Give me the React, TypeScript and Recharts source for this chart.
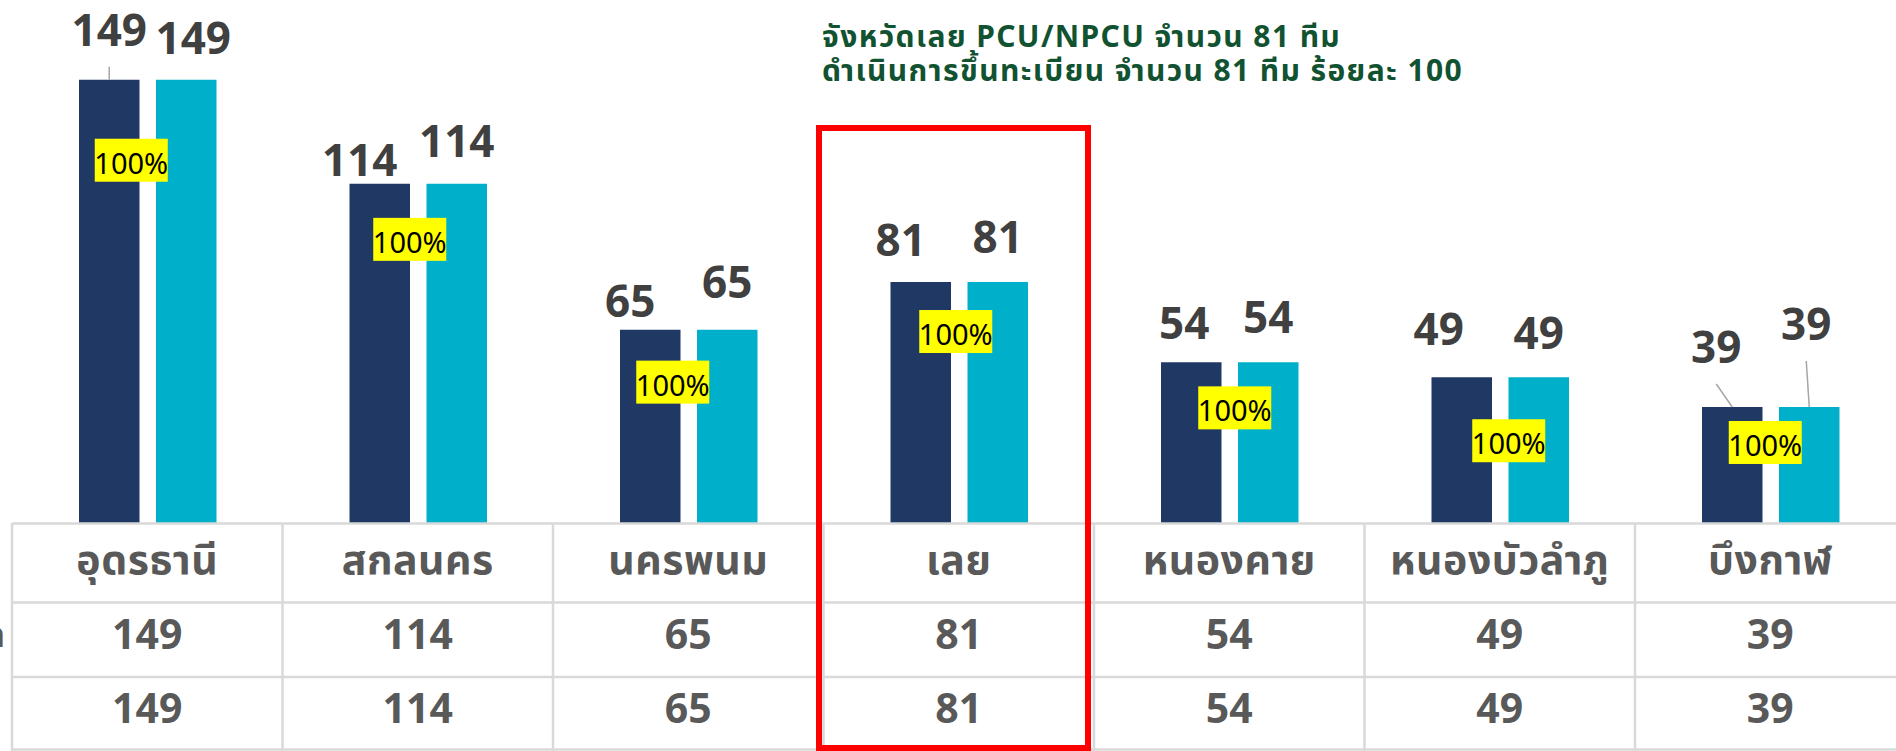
import { BarChart, Bar, XAxis, YAxis, LabelList } from 'recharts';

const provinces = ['อุดรธานี', 'สกลนคร', 'นครพนม', 'เลย', 'หนองคาย', 'หนองบัวลำภู', 'บึงกาฬ'];
const totalTeams = [149, 114, 65, 81, 54, 49, 39];
const registeredTeams = [149, 114, 65, 81, 54, 49, 39];
const rowLabels = ['PCU/NPCU ทั้งหมด', 'ขึ้นทะเบียน'];
const titleLines = ['จังหวัดเลย PCU/NPCU จำนวน 81 ทีม', 'ดำเนินการขึ้นทะเบียน จำนวน 81 ทีม ร้อยละ 100'];
const highlighted = 'เลย';

const chartData = provinces.map((name, i) => ({
  name,
  total: totalTeams[i],
  registered: registeredTeams[i],
  pct: Math.round((registeredTeams[i] / totalTeams[i]) * 100),
}));

// layout
const W = 1910;
const H = 751;
const M = { top: 47, right: 4.5, left: 12, bottom: 0 };
const AXIS_H = 228;
const BAND = (W - M.left - M.right) / provinces.length;
const BAR_SIZE = 60.5;
const BAR_GAP = 16.5;
const GRID = '#d9d9d9';
const FONT = "'Noto Sans', 'Noto Sans Thai', sans-serif";

// hand-dragged labels in the original: [dx, px above bar top, leader line]
const TOTAL_NUDGE: [number, number, boolean][] = [
  [0, 34, true], [-20, 8, false], [-20, 13, false], [-20, 26, false], [-7, 23, false], [-23, 32, false], [-16, 44, true],
];
const REG_NUDGE: [number, number, boolean][] = [
  [7, 26, false], [0, 27, false], [0, 32, false], [0, 29, false], [0, 29, false], [0, 28, false], [-3, 67, true],
];
// percentage boxes: [dx from group centre, px below bar top]
const PCT_NUDGE: [number, number][] = [
  [-16.5, 59], [-8.5, 34], [-16, 31], [-3.5, 28], [5, 24], [8.5, 42], [-5.5, 14],
];

function geom(props: any) {
  const vb = props.viewBox || {};
  return {
    x: props.x ?? vb.x,
    y: props.y ?? vb.y,
    width: props.width ?? vb.width,
  };
}

const valueLabel = (nudges: [number, number, boolean][]) => (props: any) => {
  const { x, y, width } = geom(props);
  const i = props.index;
  if (x == null || i == null) return null;
  const [dx, above, lead] = nudges[i];
  const cx = x + width / 2;
  const lx = cx + dx;
  const base = y - above;
  return (
    <g>
      {lead && <line x1={lx} y1={base + 21} x2={cx} y2={y} stroke="#a6a6a6" strokeWidth={1.5} />}
      <text x={lx} y={base} textAnchor="middle" fontSize={44} fontWeight={700} fill="#404040" fontFamily={FONT}>
        {props.value}
      </text>
    </g>
  );
};

const PctLabel = (props: any) => {
  const { x, y } = geom(props);
  const i = props.index;
  if (x == null || i == null) return null;
  const [dx, drop] = PCT_NUDGE[i];
  const bx = x - BAR_GAP / 2 + dx;
  const top = y + drop;
  return (
    <g>
      <rect x={bx - 36.5} y={top} width={73} height={43} fill="#ffff00" />
      <text x={bx} y={top + 35} textAnchor="middle" fontSize={29} fill="#000000" fontFamily={FONT}>
        {chartData[i].pct}%
      </text>
    </g>
  );
};

function TableTick(props: any) {
  const { x, payload } = props;
  const i = provinces.indexOf(payload.value);
  const left = x - BAND / 2;
  const row = chartData[i];
  const cellText = { textAnchor: 'middle' as const, fontWeight: 700, fill: '#595959', fontFamily: FONT };
  return (
    <g>
      <line x1={left} x2={left} y1={523} y2={751} stroke={GRID} strokeWidth={2.5} />
      {[523.5, 602.5, 677, 749.5].map((yy) => (
        <line key={yy} x1={left} x2={left + BAND} y1={yy} y2={yy} stroke={GRID} strokeWidth={2.5} />
      ))}
      <text x={x} y={574} fontSize={41} letterSpacing={0.5} {...cellText}>{payload.value}</text>
      <text x={x} y={649} fontSize={41} {...cellText}>{row.total}</text>
      <text x={x} y={723} fontSize={41} {...cellText}>{row.registered}</text>
      {payload.value === highlighted && (
        <rect x={left - 4.5} y={128} width={BAND - 1.5} height={620} fill="none" stroke="#ff0000" strokeWidth={6} />
      )}
    </g>
  );
}

export default function App() {
  return (
    <div
      style={{
        position: 'fixed', left: 0, top: 0, width: 1896, height: 751,
        overflow: 'hidden', background: '#ffffff', fontFamily: FONT,
      }}
    >
      <BarChart width={W} height={H} data={chartData} margin={M} barSize={BAR_SIZE} barGap={BAR_GAP}>
        <YAxis hide domain={[0, 160]} />
        <XAxis
          dataKey="name"
          axisLine={false}
          tickLine={false}
          interval={0}
          height={AXIS_H}
          tick={<TableTick />}
        />
        <Bar dataKey="total" fill="#203864" isAnimationActive={false}>
          <LabelList dataKey="total" content={valueLabel(TOTAL_NUDGE)} />
        </Bar>
        <Bar dataKey="registered" fill="#00b0ca" isAnimationActive={false}>
          <LabelList dataKey="registered" content={valueLabel(REG_NUDGE)} />
          <LabelList dataKey="pct" content={PctLabel} />
        </Bar>
      </BarChart>
      <svg
        width={1896}
        height={751}
        style={{ position: 'absolute', left: 0, top: 0, pointerEvents: 'none' }}
      >
        <text x={822} y={47} fontSize={30} fontWeight={700} letterSpacing={1.4} fill="#115231" fontFamily={FONT}>
          {titleLines[0]}
        </text>
        <text x={822} y={81} fontSize={30} fontWeight={700} letterSpacing={1.4} fill="#115231" fontFamily={FONT}>
          {titleLines[1]}
        </text>
        <text x={5} y={647} textAnchor="end" fontSize={36} fontWeight={700} fill="#595959" fontFamily={FONT}>
          {rowLabels[0]}
        </text>
      </svg>
    </div>
  );
}
